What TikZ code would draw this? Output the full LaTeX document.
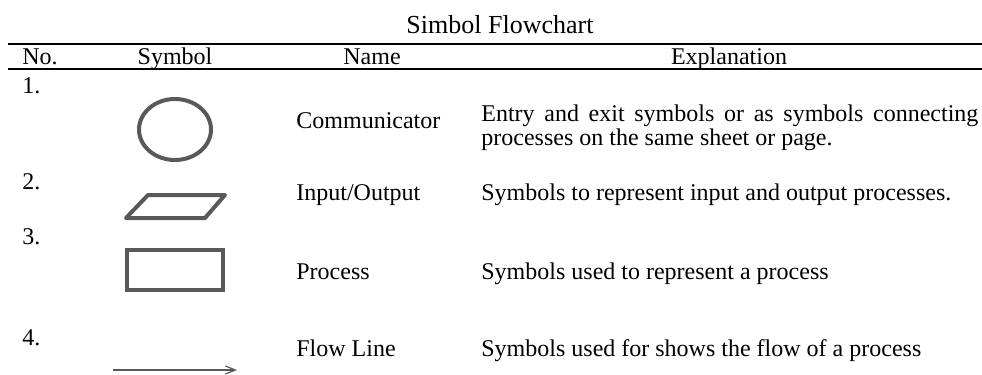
\documentclass[tikz,border=0pt]{standalone}
\usepackage{fontspec}
\setmainfont{Liberation Serif}
\usetikzlibrary{arrows.meta}
\definecolor{symgray}{HTML}{595959}
\begin{document}
\begin{tikzpicture}[x=0.5pt,y=-0.5pt,
  txt/.style={inner sep=0pt,anchor=base west,font=\fontsize{12pt}{14pt}\selectfont},
  ctxt/.style={txt,anchor=base},
  rulestyle/.style={line width=1pt,black},
  symline/.style={line width=2pt,symgray},
  flowline/.style={line width=0.6pt,symgray,-{Straight Barb[length=5pt,width=4pt]}}]
\useasboundingbox (0,0) rectangle (982,375);
% title
\node[ctxt,font=\fontsize{13pt}{15pt}\selectfont] (title) at (500,33) {Simbol Flowchart};
% rules
\coordinate (r1a) at (8,44); \coordinate (r1b) at (982,44);
\coordinate (r2a) at (8,69); \coordinate (r2b) at (982,69);
\draw[rulestyle] (r1a) -- (r1b);
\draw[rulestyle] (r2a) -- (r2b);
% header
\node[txt] (hno) at (22,64) {No.};
\node[ctxt] (hsym) at (175,64) {Symbol};
\node[ctxt] (hname) at (372,64) {Name};
\node[ctxt] (hexp) at (729,64) {Explanation};
% row numbers
\node[txt] (n1) at (22,93) {1.};
\node[txt] (n2) at (22,189) {2.};
\node[txt] (n3) at (22,244) {3.};
\node[txt] (n4) at (22,345) {4.};
% symbols
\draw[symline] (175,129.5) ellipse [x radius=36, y radius=30.5];
\draw[symline,line join=round] (148,195) -- (225,195) -- (205,218) -- (126,218) -- cycle;
\draw[symline] (127,250) rectangle (223,290);
\coordinate (fa) at (113,370); \coordinate (fb) at (237,370);
\draw[flowline] (fa) -- (fb);
% names
\node[txt] (m1) at (296,128) {Communicator};
\node[txt] (m2) at (296,200) {Input/Output};
\node[txt] (m3) at (296,279) {Process};
\node[txt] (m4) at (296,356) {Flow Line};
% explanations
\node[txt] (e1a) at (481,121) {\makebox[248.5pt][s]{Entry and exit symbols or as symbols connecting}};
\node[txt] (e1b) at (481,145) {processes on the same sheet or page.};
\node[txt] (e2) at (481,200) {Symbols to represent input and output processes.};
\node[txt] (e3) at (481,279) {Symbols used to represent a process};
\node[txt] (e4) at (481,356) {Symbols used for shows the flow of a process};
\end{tikzpicture}
\end{document}
